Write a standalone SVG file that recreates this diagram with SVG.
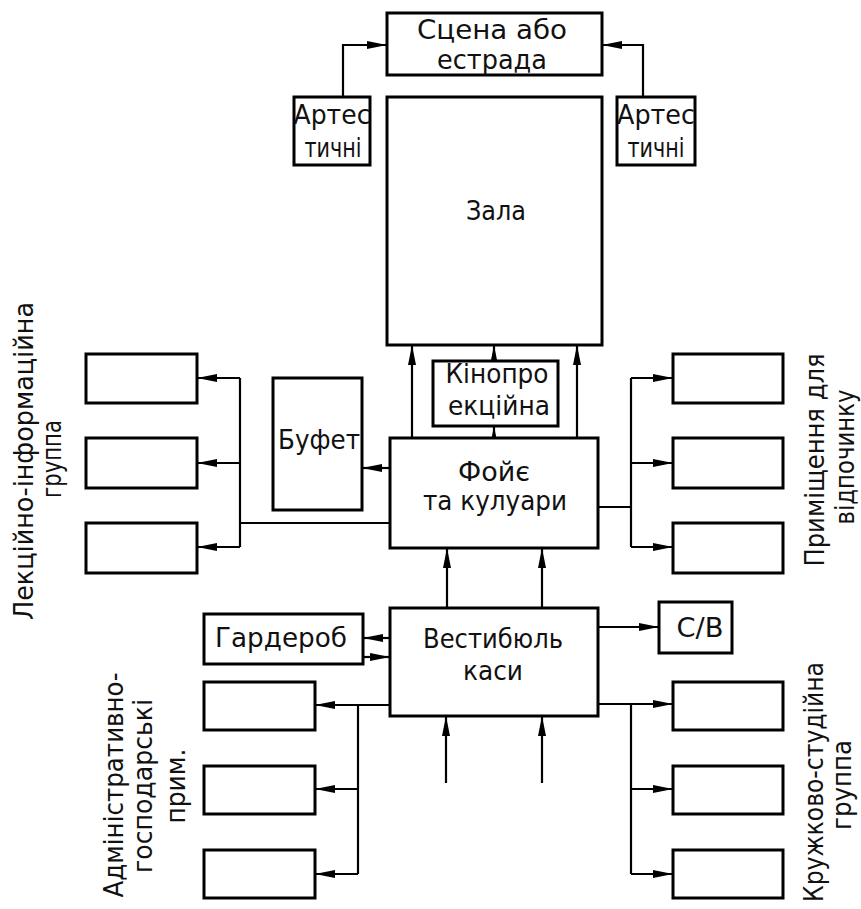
<svg xmlns="http://www.w3.org/2000/svg" width="861" height="909" viewBox="0 0 861 909">
<style>
.box{fill:#fff;stroke:#000;stroke-width:3}
.c{fill:none;stroke:#000;stroke-width:2.2}
.a{marker-end:url(#ah)}
text{font-family:"DejaVu Sans","Liberation Sans",sans-serif;font-size:27px;fill:#111;text-anchor:middle}
</style>
<defs>
<marker id="ah" markerUnits="userSpaceOnUse" markerWidth="22" markerHeight="10" viewBox="0 0 22 10" refX="20" refY="5" orient="auto">
<path d="M0,1 L20,5 L0,9 z" fill="#000"/>
</marker>
</defs>
<rect width="861" height="909" fill="#fff"/>
<g id="connectors">
<path class="c a" d="M343,97 V45 H387"/>
<path class="c a" d="M643,97 V45 H602"/>
<path class="c a" d="M412,438 V345"/>
<path class="c a" d="M494,438 V426"/>
<path class="c a" d="M494,366 V345"/>
<path class="c a" d="M577,438 V345"/>
<path class="c a" d="M390,468 H362"/>
<path class="c" d="M390,523 H240 M240,378 V547"/>
<path class="c a" d="M240,378 H197"/>
<path class="c a" d="M240,463 H197"/>
<path class="c a" d="M240,547 H197"/>
<path class="c" d="M598,507 H631 M631,378 V547"/>
<path class="c a" d="M631,378 H673"/>
<path class="c a" d="M631,463 H673"/>
<path class="c a" d="M631,547 H673"/>
<path class="c a" d="M447,608 V548"/>
<path class="c a" d="M542,608 V548"/>
<path class="c a" d="M390,638 H363"/>
<path class="c a" d="M363,657 H390"/>
<path class="c a" d="M598,627 H659"/>
<path class="c a" d="M598,704 H673"/>
<path class="c" d="M631,704 V874"/>
<path class="c a" d="M631,789 H673"/>
<path class="c a" d="M631,874 H673"/>
<path class="c a" d="M390,705 H315"/>
<path class="c" d="M358,705 V874"/>
<path class="c a" d="M358,789 H315"/>
<path class="c a" d="M358,874 H315"/>
<path class="c a" d="M446,783 V716"/>
<path class="c a" d="M542,783 V716"/>
</g>
<g id="stage"><rect class="box" x="387" y="13" width="215" height="62"/>
<text x="492" y="39" textLength="150" lengthAdjust="spacingAndGlyphs">Сцена або</text>
<text x="492" y="69" textLength="110" lengthAdjust="spacingAndGlyphs">естрада</text></g>
<g id="artist-left"><rect class="box" x="294" y="97" width="76" height="68"/>
<text x="332" y="124" textLength="77" lengthAdjust="spacingAndGlyphs">Артес</text>
<text x="333" y="157" textLength="57" lengthAdjust="spacingAndGlyphs">тичні</text></g>
<g id="artist-right"><rect class="box" x="617" y="97" width="78" height="68"/>
<text x="656" y="124" textLength="78" lengthAdjust="spacingAndGlyphs">Артес</text>
<text x="656" y="157" textLength="57" lengthAdjust="spacingAndGlyphs">тичні</text></g>
<g id="hall"><rect class="box" x="387" y="97" width="215" height="248"/>
<text x="496" y="220" textLength="60" lengthAdjust="spacingAndGlyphs">Зала</text></g>
<g id="projection"><rect class="box" x="433" y="361" width="125" height="65"/>
<text x="497" y="383" textLength="103" lengthAdjust="spacingAndGlyphs">Кінопро</text>
<text x="499" y="415" textLength="102" lengthAdjust="spacingAndGlyphs">екційна</text></g>
<g id="buffet"><rect class="box" x="273" y="378" width="89" height="132"/>
<text x="319" y="449" textLength="82" lengthAdjust="spacingAndGlyphs">Буфет</text></g>
<g id="foyer"><rect class="box" x="390" y="438" width="208" height="110"/>
<text x="494" y="481" textLength="72" lengthAdjust="spacingAndGlyphs">Фойє</text>
<text x="495" y="510" textLength="144" lengthAdjust="spacingAndGlyphs">та кулуари</text></g>
<g id="lecture-1"><rect class="box" x="86" y="354" width="111" height="49"/></g>
<g id="lecture-2"><rect class="box" x="86" y="438" width="111" height="50"/></g>
<g id="lecture-3"><rect class="box" x="86" y="523" width="111" height="50"/></g>
<g id="rest-1"><rect class="box" x="673" y="354" width="110" height="49"/></g>
<g id="rest-2"><rect class="box" x="673" y="438" width="110" height="50"/></g>
<g id="rest-3"><rect class="box" x="673" y="523" width="110" height="50"/></g>
<g id="wardrobe"><rect class="box" x="204" y="614" width="159" height="50"/>
<text x="281" y="647" textLength="132" lengthAdjust="spacingAndGlyphs">Гардероб</text></g>
<g id="vestibule"><rect class="box" x="390" y="608" width="208" height="108"/>
<text x="493" y="648" textLength="140" lengthAdjust="spacingAndGlyphs">Вестибюль</text>
<text x="493" y="680" textLength="60" lengthAdjust="spacingAndGlyphs">каси</text></g>
<g id="wc"><rect class="box" x="659" y="602" width="73" height="51"/>
<text x="700" y="637" textLength="47" lengthAdjust="spacingAndGlyphs">С/В</text></g>
<g id="admin-1"><rect class="box" x="204" y="682" width="111" height="48"/></g>
<g id="admin-2"><rect class="box" x="204" y="766" width="111" height="48"/></g>
<g id="admin-3"><rect class="box" x="204" y="850" width="111" height="48"/></g>
<g id="club-1"><rect class="box" x="673" y="682" width="110" height="48"/></g>
<g id="club-2"><rect class="box" x="673" y="766" width="110" height="48"/></g>
<g id="club-3"><rect class="box" x="673" y="850" width="110" height="48"/></g>
<g id="label-lecture">
<text transform="translate(33,461) rotate(-90)" textLength="318" lengthAdjust="spacingAndGlyphs">Лекційно-інформаційна</text>
<text transform="translate(61,459) rotate(-90)" textLength="78" lengthAdjust="spacingAndGlyphs">группа</text></g>
<g id="label-rest">
<text transform="translate(824,460) rotate(-90)" textLength="213" lengthAdjust="spacingAndGlyphs">Приміщення для</text>
<text transform="translate(854,457) rotate(-90)" textLength="135" lengthAdjust="spacingAndGlyphs">відпочинку</text></g>
<g id="label-admin">
<text transform="translate(123,785) rotate(-90)" textLength="225" lengthAdjust="spacingAndGlyphs">Адміністративно-</text>
<text transform="translate(152,786) rotate(-90)" textLength="174" lengthAdjust="spacingAndGlyphs">господарські</text>
<text transform="translate(185,786) rotate(-90)" textLength="75" lengthAdjust="spacingAndGlyphs">прим.</text></g>
<g id="label-club">
<text transform="translate(823,782) rotate(-90)" textLength="240" lengthAdjust="spacingAndGlyphs">Кружково-студійна</text>
<text transform="translate(851,785) rotate(-90)" textLength="90" lengthAdjust="spacingAndGlyphs">группа</text></g>
</svg>
